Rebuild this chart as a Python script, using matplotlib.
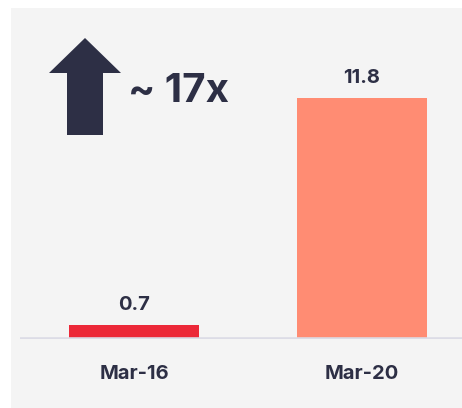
import matplotlib
matplotlib.use("Agg")
import matplotlib.pyplot as plt
from matplotlib.patches import Rectangle, Polygon

plt.rcParams['font.family'] = ['Inter', 'DejaVu Sans']

# data
periods = ["Mar-16", "Mar-20"]
values = [0.7, 11.8]
bar_colors = ["#ec2838", "#ff8c73"]
growth_label = "~ 17x"

ink = "#2d2f45"
bg = "#f4f4f4"

W, H = 462, 408
fig = plt.figure(figsize=(W / 100, H / 100), dpi=100)
fig.patch.set_facecolor("white")

# grey panel
fig.patches.append(Rectangle((11 / W, 0), 1 - 11 / W, (H - 8) / H,
                             transform=fig.transFigure, facecolor=bg,
                             edgecolor="none", zorder=-5))

base_px = 339  # axis line y from top
ax = fig.add_axes([20 / W, (H - base_px) / H, 1 - 20 / W, (base_px - 8) / H])
ax.set_facecolor("none")
ax.set_zorder(1)
px_per_unit = (338.5 - 97.7) / 11.8
ax.set_ylim(0, (base_px - 8) / px_per_unit)
ax.set_xlim(-(134 - 20) / 227.5, 1 + (462 - 361.5) / 227.5)

x = list(range(len(periods)))
ax.bar(x, values, width=130 / 227.5, color=bar_colors, zorder=2)
ax.axhline(0, color="#dcdce6", linewidth=2.6, zorder=3)

for i, v in zip(x, values):
    ax.annotate(f"{v}", xy=(i, v), xytext=(0, 10.6), textcoords="offset points",
                ha="center", va="baseline", fontsize=14.5, fontweight="bold",
                color=ink, annotation_clip=False)
    ax.annotate(periods[i], xy=(i, 0), xytext=(0, -28.5), textcoords="offset points",
                ha="center", va="baseline", fontsize=14.5, fontweight="bold",
                color=ink, annotation_clip=False)

for s in ax.spines.values():
    s.set_visible(False)
ax.set_xticks([])
ax.set_yticks([])

# growth arrow
def inch(px, py):
    return (px / 100, (H - py) / 100)

arrow_pts = [inch(85, 38), inch(121, 73), inch(103, 73), inch(103, 135),
             inch(67, 135), inch(67, 73), inch(49, 73)]
fig.patches.append(Polygon(arrow_pts, closed=True, transform=fig.dpi_scale_trans,
                           facecolor=ink, edgecolor="none", zorder=3))
fig.text(128 / W, (H - 91) / H, growth_label, ha="left", va="center",
         fontsize=29, fontweight="bold", color=ink)

fig.savefig("out.png", dpi=100, facecolor=fig.get_facecolor())
